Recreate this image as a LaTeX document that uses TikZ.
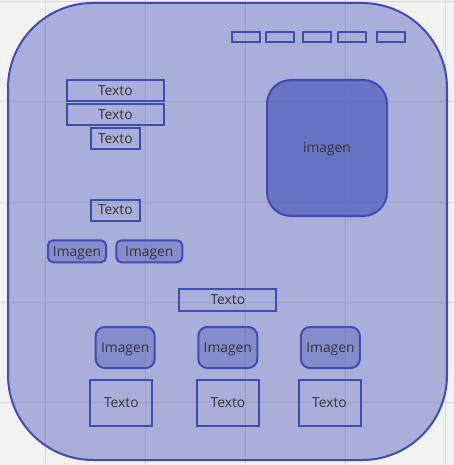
\documentclass[tikz,border=0pt]{standalone}
\usepackage{fontspec}
\setmainfont{Open Sans}
\definecolor{bordc}{RGB}{63,76,181}
\definecolor{bgc}{RGB}{242,242,242}
\definecolor{gridc}{RGB}{218,218,218}
\definecolor{txtc}{RGB}{51,51,51}
\begin{document}
\begin{tikzpicture}[x=1pt,y=-1pt,
  txt/.style={font=\fontsize{13.8}{16}\selectfont,text=txtc,text height=9.8pt,text depth=0pt},
  tbox/.style={draw=bordc,line width=2pt,txt,inner sep=0pt},
  imgbox/.style={draw=bordc,line width=2pt,fill=bordc,fill opacity=0.35,text opacity=1,txt,rounded corners=6pt,inner sep=0pt},
  minibox/.style={draw=bordc,line width=2pt,inner sep=0pt}]
\fill[bgc] (0,0) rectangle (454,465);
\useasboundingbox (0,0) rectangle (454,465);
\foreach \x in {45,145,245,345,445} \draw[gridc,line width=1pt] (\x,0) -- (\x,465);
\foreach \y in {2,102,202,302,402} \draw[gridc,line width=1pt] (0,\y) -- (454,\y);
% main shape
\node[draw=bordc,line width=2pt,fill=bordc,fill opacity=0.4,rounded corners=85pt,minimum width=439pt,minimum height=457pt,inner sep=0pt] (main) at (227.5,231.5) {};
% top mini boxes
\foreach \i/\x in {1/246,2/280.3,3/316.5,4/352,5/390.5}
  \node[minibox,minimum width=28pt,minimum height=10pt] (m\i) at (\x,37) {};
% left column
\node[tbox,minimum width=97pt,minimum height=21pt] (t1) at (115.3,91) {Texto};
\node[tbox,minimum width=97pt,minimum height=21pt] (t2) at (115.3,114.5) {Texto};
\node[tbox,minimum width=49pt,minimum height=21pt] (t3) at (115.3,138.3) {Texto};
\node[tbox,minimum width=49pt,minimum height=21pt] (t4) at (115.3,210) {Texto};
\node[imgbox,minimum width=58pt,minimum height=22pt,rounded corners=5pt] (i1) at (77,251.3) {Imagen};
\node[imgbox,minimum width=66pt,minimum height=22pt,rounded corners=5pt] (i2) at (149.3,251.3) {Imagen};
% large image
\node[draw=bordc,line width=2pt,fill=bordc,fill opacity=0.6,text opacity=1,txt,rounded corners=24pt,minimum width=120pt,minimum height=136pt,inner sep=0pt] (big) at (327,148) {imagen};
% bottom
\node[tbox,minimum width=97pt,minimum height=22pt] (t5) at (227.8,299.6) {Texto};
\node[imgbox,minimum width=59pt,minimum height=41pt,rounded corners=9pt] (i3) at (125.2,347.5) {Imagen};
\node[imgbox,minimum width=59pt,minimum height=41pt,rounded corners=9pt] (i4) at (227.8,347.5) {Imagen};
\node[imgbox,minimum width=59pt,minimum height=41pt,rounded corners=9pt] (i5) at (330.4,347.5) {Imagen};
\node[tbox,minimum width=62pt,minimum height=46pt] (t6) at (121.3,402.7) {Texto};
\node[tbox,minimum width=62pt,minimum height=46pt] (t7) at (228,402.7) {Texto};
\node[tbox,minimum width=62pt,minimum height=46pt] (t8) at (329.5,402.7) {Texto};
\end{tikzpicture}
\end{document}
